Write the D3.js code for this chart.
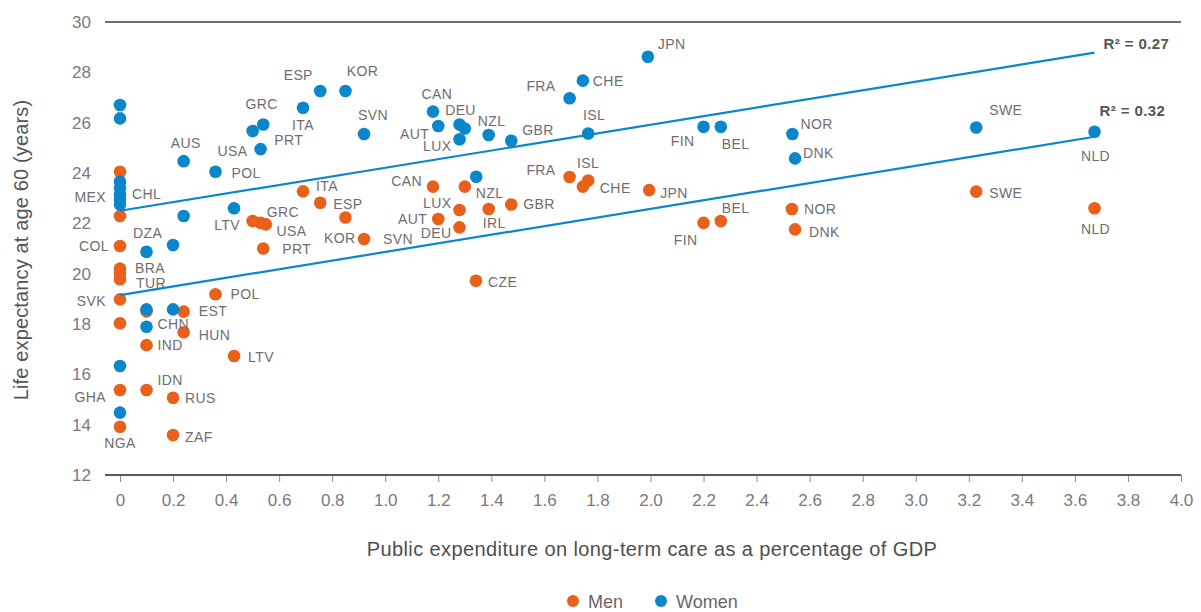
<!DOCTYPE html>
<html>
<head>
<meta charset="utf-8">
<script src="https://cdn.jsdelivr.net/npm/d3@7"></script>
<style>
  html, body { margin: 0; padding: 0; background: #fff; }
  svg { display: block; font-family: "Liberation Sans", Arial, Helvetica, sans-serif; }
</style>
</head>
<body>
<svg id="chart" width="1201" height="612"></svg>
<script>
// ---------------- DATA ----------------
const xTicks = [0, 0.2, 0.4, 0.6, 0.8, 1.0, 1.2, 1.4, 1.6, 1.8, 2.0, 2.2, 2.4, 2.6, 2.8, 3.0, 3.2, 3.4, 3.6, 3.8, 4.0];
const xTickLabels = ["0", "0.2", "0.4", "0.6", "0.8", "1.0", "1.2", "1.4", "1.6", "1.8", "2.0", "2.2", "2.4", "2.6", "2.8", "3.0", "3.2", "3.4", "3.6", "3.8", "4.0"];
const yTicks = [12, 14, 16, 18, 20, 22, 24, 26, 28, 30];

// Men
const menCountries = ["", "", "COL", "BRA", "", "TUR", "SVK", "", "GHA", "NGA",
  "", "IND", "IDN", "RUS", "ZAF", "EST", "HUN", "POL", "LTV", "GRC",
  "USA", "", "PRT", "ITA", "ESP", "KOR", "SVN", "CAN", "AUT", "LUX",
  "DEU", "NZL", "IRL", "GBR", "CZE", "FRA", "CHE", "ISL", "JPN", "FIN",
  "BEL", "NOR", "DNK", "SWE", "NLD"];
const menExpenditure = [0, 0, 0, 0, 0, 0, 0, 0, 0, 0,
  0.10, 0.10, 0.10, 0.20, 0.20, 0.24, 0.24, 0.36, 0.43, 0.50,
  0.53, 0.55, 0.54, 0.69, 0.755, 0.85, 0.92, 1.18, 1.20, 1.28,
  1.28, 1.30, 1.39, 1.475, 1.342, 1.695, 1.745, 1.765, 1.995, 2.20,
  2.265, 2.533, 2.545, 3.228, 3.674];
const menLifeExp = [24.05, 22.29, 21.10, 20.20, 20.02, 19.78, 18.98, 18.03, 15.38, 13.92,
  18.50, 17.16, 15.38, 15.07, 13.59, 18.49, 17.67, 19.18, 16.73, 22.09,
  22.02, 21.96, 21.00, 23.27, 22.82, 22.23, 21.38, 23.46, 22.17, 22.53,
  21.84, 23.46, 22.57, 22.75, 19.72, 23.84, 23.46, 23.70, 23.32, 22.02,
  22.09, 22.57, 21.76, 23.26, 22.60];

// Women
const womenCountries = ["", "", "", "CHL", "MEX", "", "", "", "", "DZA",
  "", "CHN", "", "", "AUS", "", "POL", "LTV", "GRC", "PRT",
  "USA", "ITA", "ESP", "KOR", "SVN", "CAN", "AUT", "DEU", "", "LUX",
  "NZL", "GBR", "", "FRA", "CHE", "ISL", "JPN", "FIN", "BEL", "NOR",
  "DNK", "SWE", "NLD"];
const womenExpenditure = [0, 0, 0, 0, 0, 0, 0, 0, 0, 0.10,
  0.10, 0.10, 0.20, 0.20, 0.24, 0.24, 0.36, 0.43, 0.50, 0.54,
  0.53, 0.69, 0.755, 0.85, 0.92, 1.18, 1.20, 1.28, 1.30, 1.28,
  1.39, 1.475, 1.343, 1.695, 1.745, 1.765, 1.99, 2.20, 2.265, 2.535,
  2.545, 3.228, 3.674];
const womenLifeExp = [26.70, 26.17, 23.65, 23.15, 22.95, 23.40, 22.75, 16.33, 14.48, 20.87,
  18.58, 17.89, 21.14, 18.58, 24.47, 22.29, 24.05, 22.60, 25.67, 25.93,
  24.95, 26.59, 27.26, 27.26, 25.55, 26.44, 25.87, 25.93, 25.77, 25.34,
  25.51, 25.28, 23.85, 26.97, 27.67, 25.57, 28.62, 25.84, 25.84, 25.55,
  24.58, 25.81, 25.64];

// Trend lines (endpoints)
const trendX = [0, 3.674];
const womenTrend = [22.5, 28.78];
const menTrend = [19.15, 25.44];
const trendLabels = ["R\u00B2 = 0.27", "R\u00B2 = 0.32"];

const seriesNames = ["Men", "Women"];
const xTitle = "Public expenditure on long-term care as a percentage of GDP";
const yTitle = "Life expectancy at age 60 (years)";

// ---------------- LAYOUT / STYLE ----------------
const colors = { Men: "#E8601A", Women: "#0A87CB" };
// label placement: [anchor, dx, dy(center offset)]
const menLabelPos = {
  COL: ["end", -11, 0], BRA: ["start", 15, -1], TUR: ["start", 16, 4], SVK: ["end", -14, 2],
  GHA: ["end", -14, 7], NGA: ["middle", 0, 16], IND: ["start", 11, 0], IDN: ["start", 11, -10],
  RUS: ["start", 12, 0], ZAF: ["start", 12, 2], EST: ["start", 15, -1], HUN: ["start", 15, 3],
  POL: ["start", 15, 0], LTV: ["start", 14, 1], GRC: ["start", 14, -9], USA: ["start", 16, 8],
  PRT: ["start", 19, 0], ITA: ["start", 13, -5], ESP: ["start", 13, 1], KOR: ["end", 10, 20],
  SVN: ["start", 19, 0], CAN: ["end", -11, -6], LUX: ["end", -8, -7], AUT: ["end", -11, 0],
  DEU: ["end", -8, 6], NZL: ["start", 11, 6], IRL: ["start", -6, 14], GBR: ["start", 12, 0],
  CZE: ["start", 12, 1], FRA: ["end", -14, -7], ISL: ["middle", 0, -18], CHE: ["start", 17, 1],
  JPN: ["start", 11, 3], FIN: ["end", -6, 17], BEL: ["start", 1, -13], NOR: ["start", 12, 0],
  DNK: ["start", 14, 3], SWE: ["start", 13, 1], NLD: ["middle", 1, 21]
};
const womenLabelPos = {
  MEX: ["end", -14, -2], CHL: ["start", 12, 0], DZA: ["middle", 1, -19], CHN: ["start", 11, -3],
  AUS: ["middle", 2, -18], POL: ["start", 16, 1], USA: ["end", -13, 2], LTV: ["end", 6, 17],
  GRC: ["middle", 9, -27], PRT: ["start", 11, 16], ITA: ["middle", 0, 17], ESP: ["middle", -22, -16],
  KOR: ["middle", 17, -20], SVN: ["middle", 9, -19], CAN: ["middle", 4, -18], DEU: ["middle", 1, -14],
  AUT: ["end", -9, 8], LUX: ["end", -8, 7], NZL: ["middle", 3, -14], GBR: ["start", 11, -11],
  FRA: ["end", -14, -12], CHE: ["start", 10, 0], ISL: ["middle", 6, -18], JPN: ["start", 10, -13],
  FIN: ["end", -9, 14], BEL: ["start", 1, 17], NOR: ["start", 8, -10], DNK: ["start", 8, -5],
  SWE: ["start", 13, -17], NLD: ["middle", 1, 24]
};

const svg = d3.select("#chart");
const x = d3.scaleLinear().domain([0, 4]).range([120, 1181]);
const y = d3.scaleLinear().domain([12, 30]).range([475, 22]);

// top border line at 30
svg.append("line")
  .attr("x1", 105).attr("x2", 1181)
  .attr("y1", y(30)).attr("y2", y(30))
  .attr("stroke", "#6f6f6f").attr("stroke-width", 2);

// x axis
const xAxis = d3.axisBottom(x)
  .tickValues(xTicks)
  .tickFormat((d, i) => xTickLabels[i])
  .tickSize(7)
  .tickSizeOuter(0)
  .tickPadding(12);
const gx = svg.append("g").attr("transform", `translate(0,${y(12)})`).call(xAxis);
gx.select(".domain").remove();
gx.selectAll(".tick line").attr("stroke", "#8a8a8a").attr("stroke-width", 1);
gx.selectAll(".tick text").attr("fill", "#7a7a7a").attr("font-size", 17)
  .attr("font-family", "'Liberation Sans', Arial, sans-serif");
svg.append("line")
  .attr("x1", 105).attr("x2", 1181)
  .attr("y1", y(12)).attr("y2", y(12))
  .attr("stroke", "#5a5a5a").attr("stroke-width", 2);

// y axis (labels only)
const yAxis = d3.axisLeft(y).tickValues(yTicks).tickSize(0).tickPadding(0);
const gy = svg.append("g").attr("transform", "translate(91,0)").call(yAxis);
gy.select(".domain").remove();
gy.selectAll(".tick text").attr("fill", "#7a7a7a").attr("font-size", 17)
  .attr("font-family", "'Liberation Sans', Arial, sans-serif");

// axis titles
svg.append("text")
  .attr("x", 652).attr("y", 556)
  .attr("text-anchor", "middle")
  .attr("fill", "#4f4f4f").attr("font-size", 20)
  .attr("letter-spacing", 0.4)
  .text(xTitle);
svg.append("text")
  .attr("transform", `translate(28,${250}) rotate(-90)`)
  .attr("text-anchor", "middle")
  .attr("fill", "#555").attr("font-size", 20)
  .attr("letter-spacing", 0.15)
  .text(yTitle);

// data rows
const men = menCountries.map((c, i) => ({ c, x: menExpenditure[i], y: menLifeExp[i] }));
const women = womenCountries.map((c, i) => ({ c, x: womenExpenditure[i], y: womenLifeExp[i] }));

// points
const r = 6.3;
svg.append("g").selectAll("circle").data(men).join("circle")
  .attr("cx", d => x(d.x)).attr("cy", d => y(d.y)).attr("r", r)
  .attr("fill", colors.Men);
svg.append("g").selectAll("circle").data(women).join("circle")
  .attr("cx", d => x(d.x)).attr("cy", d => y(d.y)).attr("r", r)
  .attr("fill", colors.Women);

// trend lines
const line = d3.line().x(d => x(d[0])).y(d => y(d[1]));
[womenTrend, menTrend].forEach(t => {
  svg.append("path")
    .attr("d", line(trendX.map((v, i) => [v, t[i]])))
    .attr("fill", "none").attr("stroke", "#0A87CB").attr("stroke-width", 2.2);
});
// R² labels
svg.append("text")
  .attr("x", x(trendX[1]) + 9).attr("y", y(womenTrend[1]) - 9 + 5)
  .attr("font-size", 15).attr("font-weight", "bold").attr("fill", "#555")
  .attr("letter-spacing", 0.4)
  .text(trendLabels[0]);
svg.append("text")
  .attr("x", x(trendX[1]) + 5).attr("y", y(menTrend[1]) - 26 + 5)
  .attr("font-size", 15).attr("font-weight", "bold").attr("fill", "#555")
  .attr("letter-spacing", 0.4)
  .text(trendLabels[1]);

// point labels
function addLabels(data, pos) {
  svg.append("g").selectAll("text").data(data.filter(d => d.c && pos[d.c])).join("text")
    .attr("x", d => x(d.x) + pos[d.c][1])
    .attr("y", d => y(d.y) + pos[d.c][2] + 5)
    .attr("text-anchor", d => pos[d.c][0])
    .attr("font-size", 14)
    .attr("letter-spacing", 0.4)
    .attr("fill", "#6e6e6e")
    .text(d => d.c);
}
addLabels(men, menLabelPos);
addLabels(women, womenLabelPos);

// legend
const legend = svg.append("g");
const legX = [573, 661];
seriesNames.forEach((s, i) => {
  legend.append("circle").attr("cx", legX[i]).attr("cy", 601).attr("r", 6).attr("fill", colors[s]);
  legend.append("text").attr("x", legX[i] + 15).attr("y", 607.5)
    .attr("font-size", 18).attr("fill", "#666").text(s);
});
</script>
</body>
</html>
